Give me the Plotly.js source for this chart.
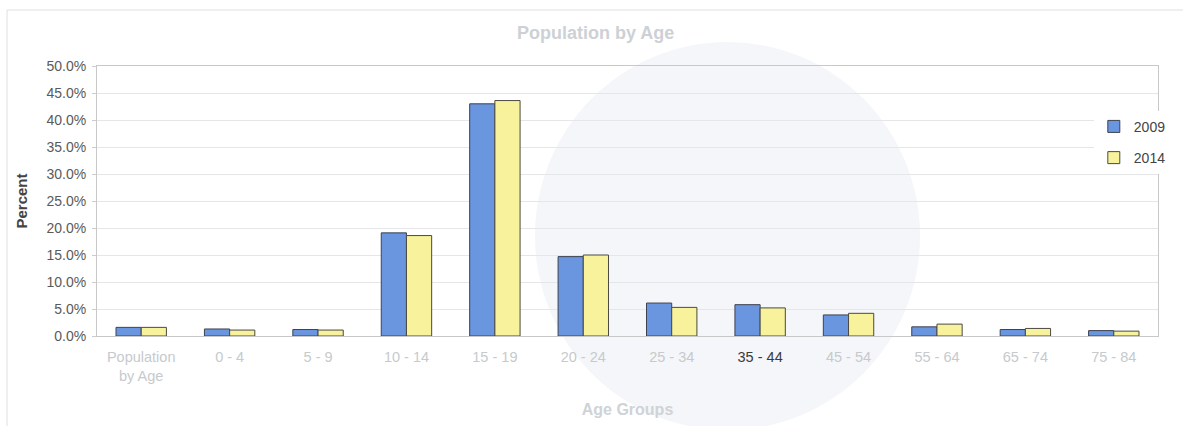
<!DOCTYPE html>
<html>
<head>
<meta charset="utf-8">
<script src="https://cdn.plot.ly/plotly-3.0.1.min.js"></script>
<style>html,body{margin:0;padding:0;background:#fff;}#chart{width:1183px;height:426px;}</style>
</head>
<body>
<div id="chart"></div>
<script>
const categories = ["Population<br>by Age", "0 - 4", "5 - 9", "10 - 14", "15 - 19", "20 - 24", "25 - 34", "35 - 44", "45 - 54", "55 - 64", "65 - 74", "75 - 84"];
const tickLabels = ["Population<br>by Age", "0 - 4", "5 - 9", "10 - 14", "15 - 19", "20 - 24", "25 - 34", "<span style=\"color:#3a3a3a\">35 - 44</span>", "45 - 54", "55 - 64", "65 - 74", "75 - 84"];
const values2009 = [1.6, 1.3, 1.2, 19.1, 43.0, 14.7, 6.1, 5.8, 3.9, 1.7, 1.2, 1.0];
const values2014 = [1.6, 1.1, 1.1, 18.6, 43.6, 15.0, 5.3, 5.2, 4.2, 2.2, 1.4, 0.9];
const seriesNames = ["2009", "2014"];

const traces = [
  {type: "bar", name: seriesNames[0], legendgroup: "a", x: categories, y: values2009,
   marker: {color: "#6a95df", line: {color: "#3d4250", width: 1}}, hoverinfo: "skip"},
  {type: "bar", name: seriesNames[1], legendgroup: "b", x: categories, y: values2014,
   marker: {color: "#f7f29b", line: {color: "#4a4a40", width: 1}}, hoverinfo: "skip"}
];

const layout = {
  width: 1183, height: 426,
  margin: {l: 97, r: 25, t: 66, b: 90},
  paper_bgcolor: "#ffffff",
  plot_bgcolor: "rgba(0,0,0,0)",
  font: {family: "Liberation Sans, Arial, sans-serif", size: 12, color: "#555"},
  title: {text: "<b>Population by Age</b>", x: 0.470, xref: "paper", xanchor: "center",
          y: 0.9225, yanchor: "middle",
          font: {size: 18, color: "#cdd1d5"}},
  barmode: "group",
  bargap: 0.43,
  bargroupgap: 0,
  showlegend: true,
  legend: {x: 0.9395, y: 0.834, xanchor: "left", yanchor: "top", bgcolor: "#ffffff",
           font: {size: 14, color: "#444"}, tracegroupgap: 10, traceorder: "grouped"},
  xaxis: {
    type: "category", tickvals: categories, ticktext: tickLabels,
    tickfont: {size: 14.5, color: "#c6cacd"},
    ticklabelstandoff: 8,
    showline: true, linecolor: "#c8c8c8", linewidth: 1, mirror: true,
    ticks: "", showgrid: false,
    title: {text: "<b>Age Groups</b>", font: {size: 16, color: "#cfd3d7"}, standoff: 20}
  },
  yaxis: {
    range: [0, 50], dtick: 5, tick0: 0, ticksuffix: "%", tickformat: ".1f",
    tickfont: {size: 14, color: "#5a5a5a"},
    ticklabelstandoff: 3,
    showline: true, linecolor: "#c8c8c8", linewidth: 1, mirror: true,
    showgrid: true, gridcolor: "#e4e6e8", gridwidth: 1,
    ticks: "outside", ticklen: 4, tickcolor: "#cccccc",
    zeroline: false,
    title: {text: "<b>Percent</b>", font: {size: 15, color: "#444"}, standoff: 15}
  },
  shapes: [
    {type: "circle", xref: "paper", yref: "paper", layer: "below",
     x0: (535 - 97) / 1061, x1: (920 - 97) / 1061, y0: (336 - 430) / 270, y1: (336 - 42) / 270,
     fillcolor: "#f5f6f9", line: {width: 0}},
    {type: "rect", xref: "paper", yref: "paper", layer: "below",
     x0: (7 - 97) / 1061, x1: (1195 - 97) / 1061, y0: (336 - 440) / 270, y1: (336 - 10) / 270,
     fillcolor: "rgba(0,0,0,0)", line: {color: "#e0e0e0", width: 1}}
  ]
};

Plotly.newPlot("chart", traces, layout, {displayModeBar: false, staticPlot: true});
</script>
</body>
</html>
